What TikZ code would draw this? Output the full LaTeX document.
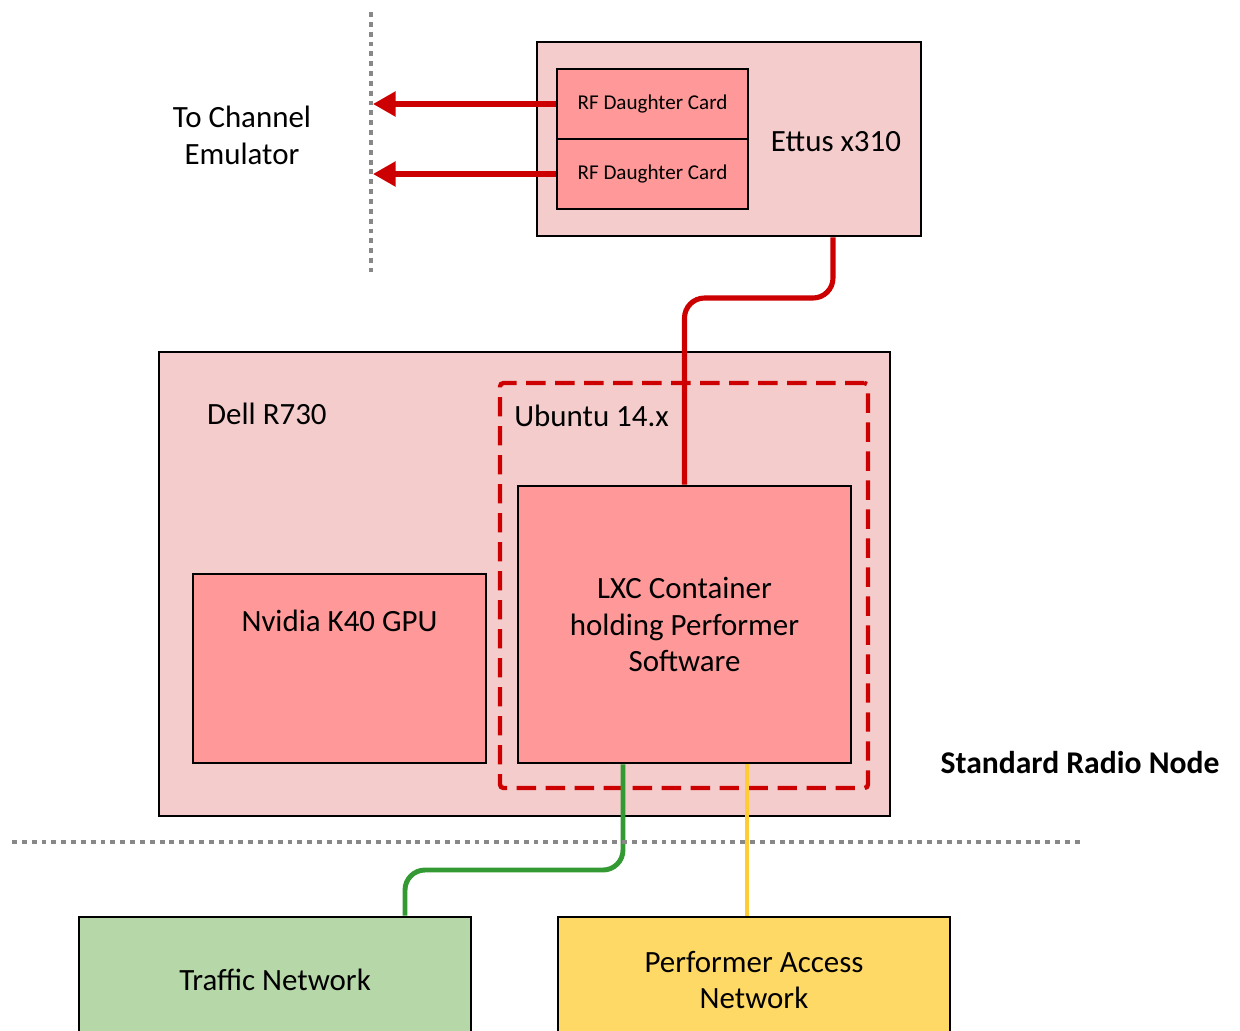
\documentclass[tikz,border=0pt]{standalone}
\usepackage{fontspec}
\setmainfont{Carlito}
\usetikzlibrary{arrows.meta}

\definecolor{palepink}{HTML}{F4CCCC}
\definecolor{cardpink}{HTML}{FF9999}
\definecolor{linkred}{HTML}{CC0000}
\definecolor{trafficgreen}{HTML}{B6D7A8}
\definecolor{linkgreen}{HTML}{339933}
\definecolor{accessyellow}{HTML}{FFD966}
\definecolor{linkyellow}{HTML}{FFCC33}
\definecolor{dotgray}{HTML}{888888}

\tikzset{
  bigtext/.style={font=\fontsize{17.6}{21}\selectfont, align=center},
  hwbox/.style={draw=black, line width=1.5pt, inner sep=0pt},
  cardbox/.style={hwbox, fill=cardpink, minimum width=3.82cm, minimum height=1.4cm,
    font=\fontsize{12}{14}\selectfont},
  redlink/.style={draw=linkred, line width=2.9pt},
  divider/.style={draw=dotgray, line width=2.8pt, dash pattern=on 2.8pt off 2.8pt}
}

\begin{document}
\begin{tikzpicture}
\clip (0,0) rectangle (24.8,-20.6);
\fill[white] (0,0) rectangle (24.8,-20.6);

% radio
\node[hwbox, fill=palepink, minimum width=7.68cm, minimum height=3.88cm] (ettus) at (14.58,-2.78) {};
\node[bigtext] (ettuslbl) at (16.72,-2.84) {Ettus x310};
\node[cardbox] (card1) at (13.05,-2.08) {RF Daughter Card};
\node[cardbox] (card2) at (13.05,-3.48) {RF Daughter Card};

\node[bigtext] (emu) at (4.84,-2.7) {To Channel\\Emulator};
\coordinate (emutop) at (7.42,-0.24);
\coordinate (emubot) at (7.42,-5.44);
\draw[redlink, -{Triangle[length=0.45cm,width=0.48cm]}] (card1.west) -- (card1.west -| 7.46,0);
\draw[redlink, -{Triangle[length=0.45cm,width=0.48cm]}] (card2.west) -- (card2.west -| 7.46,0);

% server
\node[hwbox, fill=palepink, minimum width=14.62cm, minimum height=9.28cm] (dell) at (10.49,-11.68) {};
\node[bigtext, anchor=west] (delllbl) at (4.02,-8.28) {Dell R730};
\node[draw=linkred, line width=2.5pt, dash pattern=on 11pt off 5.5pt, rounded corners=2pt,
  minimum width=7.36cm, minimum height=8.1cm] (ubuntu) at (13.68,-11.71) {};
\node[bigtext, anchor=west, inner sep=0pt] (ubuntulbl) at (10.28,-8.32) {Ubuntu 14.x};
\node[hwbox, fill=cardpink, minimum width=6.66cm, minimum height=5.54cm, bigtext] (lxc) at (13.69,-12.49)
  {LXC Container\\holding Performer\\Software};
\node[hwbox, fill=cardpink, minimum width=5.86cm, minimum height=3.78cm,
  label={[bigtext, anchor=center, yshift=-0.96cm]north:Nvidia K40 GPU}] (gpu) at (6.79,-13.37) {};

\draw[redlink, rounded corners=0.4cm] ([xshift=2.08cm]ettus.south) |- (lxc.north |- 0,-5.96) -- (lxc.north);

\node[font=\bfseries\fontsize{18}{21}\selectfont] (srn) at (21.6,-15.26) {Standard Radio Node};

% networks
\node[hwbox, fill=trafficgreen, minimum width=7.84cm, minimum height=2.52cm, bigtext] (traffic) at (5.5,-19.6) {Traffic Network};
\node[hwbox, fill=accessyellow, minimum width=7.84cm, minimum height=2.52cm, bigtext] (access) at (15.08,-19.6) {Performer Access\\Network};

\draw[linkgreen, line width=2.8pt, rounded corners=0.4cm] ([xshift=-1.23cm]lxc.south) |- ([xshift=2.6cm]traffic.north |- 0,-17.4) -- ([xshift=2.6cm]traffic.north);
\draw[linkyellow, line width=2.2pt] ([xshift=1.25cm]lxc.south) -- ([xshift=1.25cm]lxc.south |- access.north);

% dividers
\draw[divider] (emutop) -- (emubot);
\coordinate (splitl) at (0.24,-16.84);
\coordinate (splitr) at (21.64,-16.84);
\draw[divider] (splitl) -- (splitr);
\end{tikzpicture}
\end{document}
